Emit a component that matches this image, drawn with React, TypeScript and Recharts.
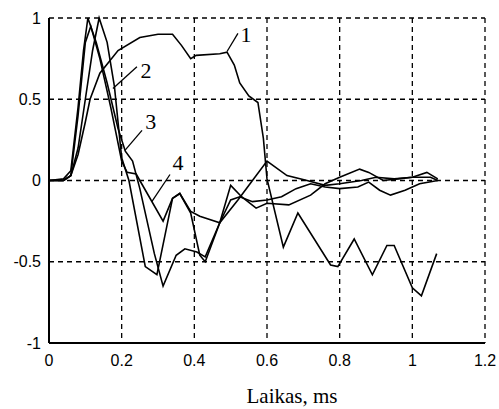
import { CartesianGrid, Line, LineChart, ReferenceDot, ReferenceLine, XAxis, YAxis } from "recharts";

// curve 1
const time1 = [0, 0.04, 0.06, 0.08, 0.1, 0.113, 0.14, 0.19, 0.25, 0.3, 0.34, 0.365, 0.39, 0.405, 0.47, 0.49, 0.51, 0.525, 0.55, 0.575, 0.59, 0.6, 0.645, 0.685, 0.775, 0.795, 0.84, 0.89, 0.93, 0.95, 1.0, 1.025, 1.067];
const curve1 = [0, 0, 0.03, 0.16, 0.36, 0.5, 0.66, 0.8, 0.88, 0.9, 0.9, 0.83, 0.75, 0.77, 0.78, 0.79, 0.71, 0.6, 0.52, 0.48, 0.26, 0.01, -0.41, -0.2, -0.52, -0.53, -0.36, -0.58, -0.4, -0.4, -0.66, -0.71, -0.45];

// curve 2
const time2 = [0, 0.04, 0.06, 0.08, 0.1, 0.12, 0.138, 0.16, 0.18, 0.2, 0.22, 0.265, 0.297, 0.34, 0.36, 0.39, 0.415, 0.43, 0.47, 0.5, 0.53, 0.57, 0.6, 0.66, 0.72, 0.76, 0.8, 0.855, 0.88, 0.92, 0.96, 1.0, 1.04, 1.07];
const curve2 = [0, 0, 0.03, 0.2, 0.5, 0.8, 1.0, 0.85, 0.58, 0.14, 0, -0.53, -0.58, -0.11, -0.08, -0.2, -0.46, -0.5, -0.26, -0.03, -0.1, -0.17, -0.14, -0.15, -0.09, -0.02, 0.02, 0.07, 0.05, 0.0, 0.01, 0.02, 0.05, 0.01];

// curve 3
const time3 = [0, 0.04, 0.06, 0.08, 0.095, 0.107, 0.13, 0.16, 0.19, 0.21, 0.23, 0.25, 0.29, 0.314, 0.35, 0.374, 0.407, 0.43, 0.47, 0.5, 0.525, 0.56, 0.6, 0.64, 0.68, 0.72, 0.76, 0.8, 0.85, 0.88, 0.91, 0.94, 0.98, 1.02, 1.07];
const curve3 = [0, 0.01, 0.06, 0.45, 0.8, 1.0, 0.85, 0.6, 0.32, 0.18, 0.12, -0.05, -0.45, -0.65, -0.46, -0.42, -0.44, -0.47, -0.26, -0.12, -0.1, -0.13, -0.12, -0.1, -0.05, -0.02, -0.04, -0.05, -0.04, -0.01, -0.06, -0.09, -0.06, -0.02, 0];

// curve 4
const time4 = [0, 0.04, 0.06, 0.08, 0.1, 0.115, 0.14, 0.17, 0.2, 0.215, 0.24, 0.25, 0.314, 0.34, 0.36, 0.39, 0.415, 0.47, 0.52, 0.56, 0.6, 0.655, 0.71, 0.76, 0.8, 0.86, 0.9, 0.95, 1.0, 1.05, 1.07];
const curve4 = [0, 0, 0.03, 0.4, 0.85, 0.95, 0.75, 0.45, 0.12, 0.05, 0.04, 0.0, -0.25, -0.11, -0.08, -0.19, -0.22, -0.26, -0.12, 0.0, 0.12, 0.03, 0.0, -0.03, -0.02, 0.0, 0.02, 0.01, 0.02, 0.02, 0.0];

const xTicks = [0, 0.2, 0.4, 0.6, 0.8, 1, 1.2];
const yTicks = [-1, -0.5, 0, 0.5, 1];

// curve labels: text position and leader line ends
const labels = ["1", "2", "3", "4"];
const labelX = [0.542, 0.267, 0.28, 0.355];
const labelY = [0.9, 0.677, 0.363, 0.11];
const leadFromX = [0.49, 0.176, 0.209, 0.283];
const leadFromY = [0.794, 0.566, 0.185, -0.13];
const leadToX = [0.52, 0.242, 0.256, 0.333];
const leadToY = [0.905, 0.7, 0.308, 0.037];

const toRows = (t: number[], v: number[]) => t.map((x, i) => ({ t: x, v: v[i] }));
const series = [toRows(time1, curve1), toRows(time2, curve2), toRows(time3, curve3), toRows(time4, curve4)];

const tickStyle = { fontFamily: "Liberation Sans", fontSize: 16, fill: "#000" };

export default function App() {
  return (
    <div style={{ position: "absolute", left: 0, top: 0, width: 499, height: 409, background: "#fff" }}>
      <LineChart width={499} height={409} margin={{ top: 18, right: 14, left: 0, bottom: 0 }}>
        <CartesianGrid stroke="#000" strokeDasharray="5 4" strokeWidth={1.3} />
        <XAxis
          type="number"
          dataKey="t"
          domain={[0, 1.2]}
          ticks={xTicks}
          allowDataOverflow
          height={66}
          tick={tickStyle}
          tickLine={false}
          tickMargin={6}
          axisLine={{ stroke: "#000", strokeWidth: 2 }}
          label={{ value: "Laikas, ms", position: "insideBottom", offset: 6, dx: 25, fontFamily: "Liberation Serif", fontSize: 21, fill: "#000" }}
        />
        <YAxis
          type="number"
          domain={[-1, 1]}
          ticks={yTicks}
          width={49}
          tick={tickStyle}
          tickLine={false}
          axisLine={{ stroke: "#000", strokeWidth: 2 }}
        />
        {series.map((d, i) => (
          <Line
            key={i}
            data={d}
            dataKey="v"
            type="linear"
            stroke="#000"
            strokeWidth={1.6}
            dot={false}
            isAnimationActive={false}
          />
        ))}
        {labels.map((s, i) => (
          <ReferenceLine
            key={"l" + i}
            segment={[{ x: leadFromX[i], y: leadFromY[i] }, { x: leadToX[i], y: leadToY[i] }]}
            stroke="#000"
            strokeWidth={1.3}
          />
        ))}
        {labels.map((s, i) => (
          <ReferenceDot
            key={"d" + i}
            x={labelX[i]}
            y={labelY[i]}
            r={0}
            fill="none"
            stroke="none"
            label={{ value: s, position: "center", fontFamily: "Liberation Serif", fontSize: 22, fill: "#000" }}
          />
        ))}
      </LineChart>
    </div>
  );
}
